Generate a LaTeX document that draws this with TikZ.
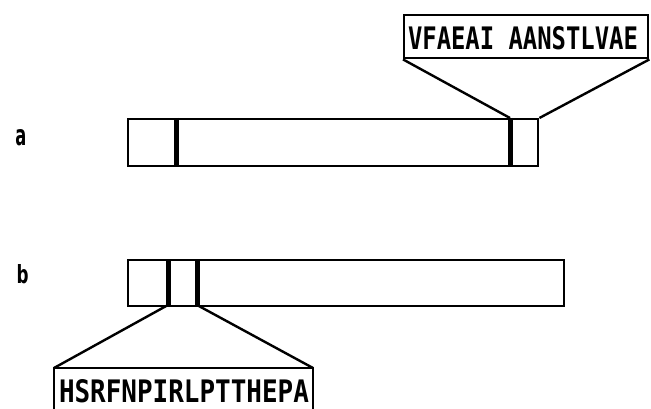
\documentclass[tikz,border=0pt]{standalone}
\usepackage{fontspec}
\newfontfamily\seqfont{DejaVu Sans Mono}
\newfontfamily\lblfont{DejaVu Sans}
\begin{document}
\begin{tikzpicture}[x=1pt,y=-1pt,line join=miter,
  outline/.style={line width=2.4pt},
  divider/.style={line width=5pt},
  barbox/.style={draw,line width=2.4pt,rectangle,inner sep=0pt,anchor=north west},
  txt/.style={inner sep=0pt,anchor=center}]
\useasboundingbox (0,0) rectangle (651,409);
% panel labels
\node[txt] (la) at (21,138) {\resizebox{11pt}{16pt}{\lblfont\bfseries a}};
\node[txt] (lb) at (22.5,274) {\resizebox{12pt}{19pt}{\lblfont\bfseries b}};
% bar a
\node[barbox,minimum width=410pt,minimum height=47pt] (bara) at (127,118) {};
\coordinate (a1t) at (176,118); \coordinate (a1b) at (176,165);
\coordinate (a2t) at (510,118); \coordinate (a2b) at (510,165);
\draw[divider] (a1t) -- (a1b);
\draw[divider] (a2t) -- (a2b);
% top label
\node[barbox,minimum width=244pt,minimum height=43pt] (laba) at (403,14) {};
\node[txt] (labatext) at (523,38.5) {\resizebox{230pt}{23pt}{\seqfont\bfseries VFAEAI AANSTLVAE}};
\draw[outline] (laba.south west) -- (a2t);
\draw[outline] (laba.south east) -- (bara.north east);
% bar b
\node[barbox,minimum width=436pt,minimum height=46pt] (barb) at (127,259) {};
\coordinate (b1t) at (168,259); \coordinate (b1b) at (168,305);
\coordinate (b2t) at (197,259); \coordinate (b2b) at (197,305);
\draw[divider] (b1t) -- (b1b);
\draw[divider] (b2t) -- (b2b);
% bottom label (open at bottom)
\coordinate (lbl) at (54,368); \coordinate (lbr) at (313,368);
\coordinate (lbl0) at (54,410); \coordinate (lbr0) at (313,410);
\draw[outline] (lbl0) -- (lbl) -- (lbr) -- (lbr0);
\node[txt] (labbtext) at (184,391.5) {\resizebox{250pt}{23pt}{\seqfont\bfseries HSRFNPIRLPTTHEPA}};
\draw[outline] (b1b) -- (lbl);
\draw[outline] (b2b) -- (lbr);
\end{tikzpicture}
\end{document}
